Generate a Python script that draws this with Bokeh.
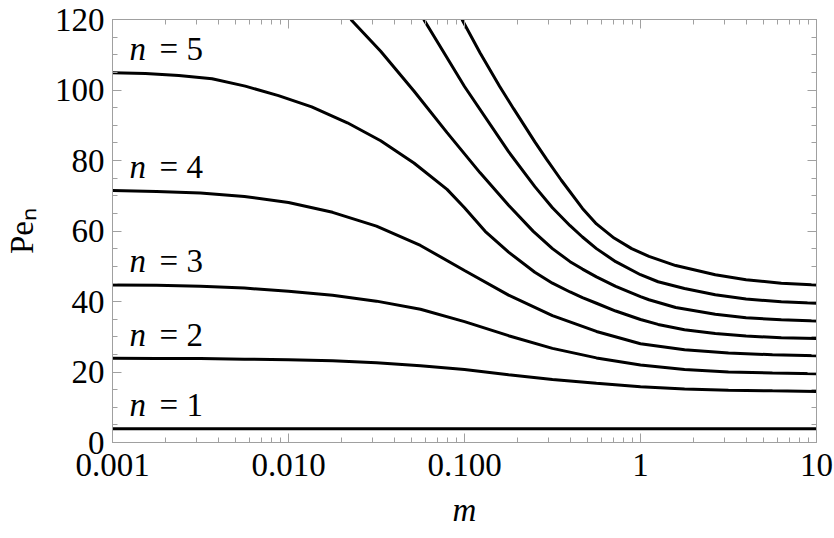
from bokeh.plotting import figure
from bokeh.models import FixedTicker, LogAxis, LinearAxis, Range1d
from bokeh.core.properties import value
from bokeh.embed import file_html
from bokeh.resources import INLINE

# ---- data ----
m_n1 = [0.001, 10]
pe_n1 = [3.9, 3.9]

m_grid = [0.001, 0.00178, 0.00316, 0.00562, 0.01, 0.0178, 0.0316, 0.0562, 0.1,
          0.178, 0.316, 0.562, 1, 1.78, 3.16, 5.62, 10]
pe_n2 = [23.9, 23.85, 23.8, 23.65, 23.45, 23.2, 22.6, 21.8, 20.7,
         19.2, 17.9, 16.8, 15.8, 15.2, 14.85, 14.65, 14.5]
pe_n3 = [44.7, 44.6, 44.35, 43.8, 42.9, 41.8, 40.1, 37.8, 34.3,
         30.3, 26.7, 24.0, 22.0, 20.7, 20.0, 19.7, 19.5]
pe_n4 = [71.5, 71.2, 70.8, 69.8, 68.1, 65.3, 61.4, 55.9, 48.8,
         41.8, 36.0, 31.5, 28.0, 26.3, 25.4, 24.9, 24.6]

m_n5 = [0.001, 0.00154, 0.00238, 0.00368, 0.00568, 0.00877, 0.01355, 0.0216, 0.0334,
        0.0516, 0.0796, 0.1, 0.131, 0.178, 0.251, 0.316, 0.398, 0.468, 0.562, 0.723,
        1, 1.259, 1.778, 2.66, 3.98, 6.31, 10]
pe_n5 = [104.9, 104.7, 104.1, 103.2, 101.1, 98.4, 95.2, 90.7, 85.6,
         79.3, 71.8, 66.6, 59.9, 54.0, 48.3, 45.2, 42.7, 41.1, 39.5, 37.3,
         34.9, 33.5, 32.0, 30.9, 30.2, 29.7, 29.5]

m_n6 = [0.0226, 0.0334, 0.0516, 0.0796, 0.1227, 0.178, 0.246, 0.316, 0.398, 0.468,
        0.562, 0.723, 1, 1.117, 1.585, 2.66, 3.98, 6.31, 10]
pe_n6 = [120.0, 111.0, 99.7, 87.9, 76.5, 67.3, 59.9, 55.0, 51.3, 49.2,
         47.0, 44.3, 41.4, 40.5, 38.3, 36.4, 35.4, 34.8, 34.5]

m_n7 = [0.0587, 0.1, 0.178, 0.251, 0.316, 0.398, 0.468, 0.562, 0.723, 1,
        1.259, 1.778, 2.66, 3.98, 6.31, 10]
pe_n7 = [120.0, 101.0, 82.5, 72.6, 66.6, 61.5, 58.3, 55.0, 51.3, 47.6,
         45.6, 43.7, 41.9, 40.7, 39.9, 39.5]

m_n8 = [0.0968, 0.1227, 0.1585, 0.19, 0.251, 0.293, 0.355, 0.468, 0.562, 0.708,
        0.891, 1.117, 1.585, 2.66, 3.98, 6.31, 10]
pe_n8 = [120.0, 110.5, 101.0, 94.7, 85.3, 80.3, 74.4, 66.4, 62.0, 58.0,
         55.0, 52.8, 50.2, 47.6, 46.2, 45.2, 44.7]

curves = [(m_n1, pe_n1), (m_grid, pe_n2), (m_grid, pe_n3), (m_grid, pe_n4),
          (m_n5, pe_n5), (m_n6, pe_n6), (m_n7, pe_n7), (m_n8, pe_n8)]

labelled_n = ["1", "2", "3", "4", "5"]

x_major = [0.001, 0.01, 0.1, 1, 10]
x_tick_labels = ["0.001", "0.010", "0.100", "1", "10"]
y_major = [0, 20, 40, 60, 80, 100, 120]

LABEL_M = 0.00125
LABEL_DY = 6.7
FONT = "Liberation Serif"
FS = "33px"
GRAY = "#a0a0a0"

p = figure(width=834, height=538, x_axis_type="log",
           x_range=Range1d(0.001, 10), y_range=Range1d(0, 120),
           output_backend="svg", toolbar_location=None,
           min_border_left=109, min_border_right=18,
           min_border_top=19, min_border_bottom=96)
p.grid.visible = False
p.outline_line_color = GRAY
p.outline_line_width = 1
p.background_fill_color = "white"
p.border_fill_color = "white"

x_minor = [k * 10.0 ** e for e in range(-3, 1) for k in range(2, 10)]
y_minor = list(range(0, 121, 5))
xticker = FixedTicker(ticks=x_major, minor_ticks=x_minor)
yticker = FixedTicker(ticks=y_major, minor_ticks=y_minor)


def style(ax, show_labels):
    ax.axis_line_color = GRAY
    ax.major_tick_line_color = GRAY
    ax.minor_tick_line_color = GRAY
    ax.major_tick_in = 9
    ax.major_tick_out = 0
    ax.minor_tick_in = 5
    ax.minor_tick_out = 0
    ax.major_label_text_font = FONT
    if show_labels:
        ax.major_label_text_font_size = FS
        ax.major_label_text_color = "black"
        ax.major_label_standoff = 8
        ax.axis_label_text_font = FONT
        ax.axis_label_text_font_size = FS
        ax.axis_label_text_color = "black"
    else:
        ax.major_label_text_font_size = "8px"
        ax.major_label_text_color = None
        ax.major_label_standoff = 0


xa = p.xaxis[0]
xa.ticker = xticker
xa.major_label_overrides = {t: s for t, s in zip(x_major, x_tick_labels)}
style(xa, True)
xa.major_label_standoff = 11
xa.axis_label = "m"
xa.axis_label_text_font_style = "italic"
xa.axis_label_standoff = 13

ya = p.yaxis[0]
ya.ticker = yticker
style(ya, True)
ya.axis_label = "Peₙ"
ya.axis_label_text_font_style = "normal"
ya.axis_label_standoff = 12

top = LogAxis(ticker=xticker)
style(top, False)
p.add_layout(top, "above")
right = LinearAxis(ticker=yticker)
style(right, False)
p.add_layout(right, "right")

for mv, pv in curves:
    p.line(mv, pv, line_color="black", line_width=3)

# curve labels, sitting just above the left end of each curve
lab_x = [LABEL_M] * len(labelled_n)
lab_y = [c[1][0] + LABEL_DY for c in curves[:len(labelled_n)]]
p.text(x=lab_x, y=lab_y, text=["n"] * len(labelled_n),
       text_font=value(FONT), text_font_style="italic", text_font_size=FS,
       text_baseline="alphabetic", text_align="left", text_color="black")
p.text(x=lab_x, y=lab_y, text=["= " + s for s in labelled_n],
       text_font=value(FONT), text_font_size=FS,
       text_baseline="alphabetic", text_align="left", x_offset=30,
       text_color="black")

open("out.html", "w").write(file_html(p, INLINE))
